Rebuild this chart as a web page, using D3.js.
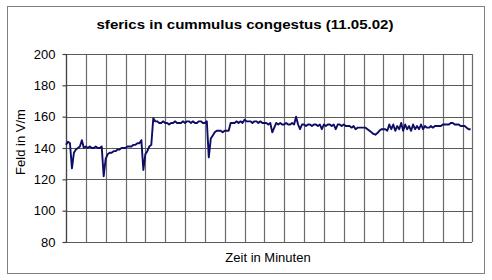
<!DOCTYPE html>
<html>
<head>
<meta charset="utf-8">
<script src="https://cdn.jsdelivr.net/npm/d3@7"></script>
<style>
  body { margin: 0; background: #fff; }
  text { font-family: Arial, "Liberation Sans", sans-serif; fill: #000; }
</style>
</head>
<body>
<div id="chart"></div>
<script>
// Feldstaerke, one sample every 0.1 min
const step = 0.1;
const feld = [
  142, 144, 143, 127, 137, 139, 140, 141, 145, 140,
  141, 140, 141, 140, 140, 141, 140, 140, 141, 122,
  133, 136, 137, 137, 138, 138, 139, 139, 140, 140,
  140, 141, 141, 141, 142, 142, 143, 143, 145, 126,
  136, 138, 141, 142, 159, 157, 157, 156, 156, 157,
  156, 156, 155, 156, 156, 157, 156, 156, 156, 157,
  156, 157, 157, 156, 157, 156, 156, 157, 157, 156,
  156, 157, 134, 146, 148, 150, 151, 151, 151, 150,
  151, 151, 151, 156, 156, 156, 157, 156, 157, 156,
  158, 157, 157, 157, 156, 157, 157, 156, 157, 156,
  156, 156, 155, 156, 150, 153, 156, 155, 156, 155,
  155, 156, 155, 155, 156, 155, 160, 155, 152, 155,
  155, 154, 155, 155, 154, 155, 155, 154, 155, 152,
  155, 154, 155, 155, 154, 155, 152, 155, 155, 154,
  155, 154, 154, 154, 153, 154, 152, 153, 153, 153,
  153, 153, 152, 151, 150, 149, 148.5, 149.5, 151, 152,
  152, 152, 151, 155, 152, 155, 151, 154, 152, 156,
  151, 155, 152, 154, 151, 155, 152, 154, 152, 155,
  152, 154, 153, 153, 154, 153, 154, 154, 154, 154,
  155, 155, 155, 155, 156, 156, 155, 155, 155, 154,
  154, 154, 153, 152, 152
];
const yTicks = [80, 100, 120, 140, 160, 180, 200];
const xGrid = d3.range(0, 21); // one gridline per minute
const xMax = 20.47;

const title = "sferics in cummulus congestus (11.05.02)";
const xTitle = "Zeit in Minuten";
const yTitle = "Feld in V/m";

const W = 492, H = 280;
const margin = {top: 54, right: 20, bottom: 38, left: 66};
const width = W - margin.left - margin.right,
      height = H - margin.top - margin.bottom;

const svg = d3.select("#chart").append("svg")
    .attr("width", W)
    .attr("height", H);

// outer chart frame
svg.append("rect")
    .attr("x", 7.5).attr("y", 6.5)
    .attr("width", 477).attr("height", 267)
    .attr("fill", "#fff")
    .attr("stroke", "#808080");

const g = svg.append("g")
    .attr("transform", `translate(${margin.left},${margin.top})`);

const x = d3.scaleLinear().domain([0, xMax]).range([0, width]);
const y = d3.scaleLinear().domain([80, 200]).range([height, 0]);

// vertical gridlines
g.append("g")
    .selectAll("line")
    .data(xGrid)
    .join("line")
        .attr("x1", d => Math.round(x(d)) + 0.5)
        .attr("x2", d => Math.round(x(d)) + 0.5)
        .attr("y1", 0)
        .attr("y2", height)
        .attr("stroke", "#6a6a6a")
        .attr("stroke-width", 1.2);

// horizontal gridlines
g.append("g")
    .selectAll("line")
    .data(yTicks)
    .join("line")
        .attr("x1", 0)
        .attr("x2", width)
        .attr("y1", d => Math.round(y(d)) + 0.5)
        .attr("y2", d => Math.round(y(d)) + 0.5)
        .attr("stroke", "#5a5a5a")
        .attr("stroke-width", 1.2);

// right border of plot area
g.append("line")
    .attr("x1", width + 0.5).attr("x2", width + 0.5)
    .attr("y1", 0).attr("y2", height)
    .attr("stroke", "#6a6a6a")
    .attr("stroke-width", 1.2);

// y axis
const yAxis = g.append("g")
    .attr("transform", "translate(0.5,0)")
    .call(d3.axisLeft(y).tickValues(yTicks).tickSize(4).tickPadding(7).tickFormat(d3.format("d")));
yAxis.selectAll("path, line").attr("stroke", "#444").attr("stroke-width", 1.2);
yAxis.select(".domain").attr("d", `M0,0V${height}`);
yAxis.selectAll("text")
    .style("font-size", "13px")
    .style("font-family", "Arial, 'Liberation Sans', sans-serif");

// data line
const line = d3.line()
    .x((d, i) => x(i * step))
    .y(d => y(d));

g.append("path")
    .datum(feld)
    .attr("fill", "none")
    .attr("stroke", "#0d0d66")
    .attr("stroke-width", 1.9)
    .attr("stroke-linejoin", "round")
    .attr("d", line);

// titles
svg.append("text")
    .attr("x", 245).attr("y", 29)
    .attr("text-anchor", "middle")
    .attr("textLength", 297)
    .attr("lengthAdjust", "spacingAndGlyphs")
    .style("font-size", "13px")
    .style("font-weight", "bold")
    .text(title);

svg.append("text")
    .attr("x", 268).attr("y", 262)
    .attr("text-anchor", "middle")
    .style("font-size", "13px")
    .text(xTitle);

svg.append("text")
    .attr("transform", `translate(25,${margin.top + height / 2 - 6}) rotate(-90)`)
    .attr("text-anchor", "middle")
    .style("font-size", "13px")
    .text(yTitle);
</script>
</body>
</html>
